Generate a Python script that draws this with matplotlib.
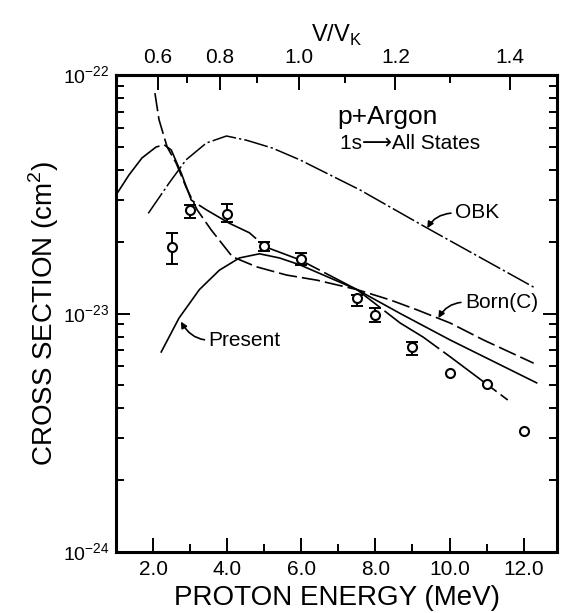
import numpy as np
import matplotlib
matplotlib.use('Agg')
import matplotlib.pyplot as plt
from matplotlib.ticker import LogLocator, NullFormatter

plt.rcParams['font.family'] = ['Liberation Sans', 'DejaVu Sans']
plt.rcParams['mathtext.fontset'] = 'custom'
plt.rcParams['mathtext.rm'] = 'Liberation Sans'

# measured cross sections, units of 1e-23 cm^2
exp_E = [2.5, 3.0, 4.0, 5.0, 6.0, 7.5, 8.0, 9.0, 10.0, 11.0, 12.0]
exp_sig = [1.90, 2.72, 2.62, 1.91, 1.69, 1.16, 0.986, 0.726, 0.565, 0.506, 0.323]
# error bar ends for the first 8 points
err_lo = [1.62, 2.52, 2.43, 1.83, 1.59, 1.08, 0.92, 0.668]
err_hi = [2.17, 2.85, 2.88, 1.99, 1.80, 1.20, 1.054, 0.762]

# Born(C) - dashed
born_E = [2.05, 2.16, 2.38, 2.62, 2.89, 3.19, 3.57, 4.14, 4.79, 5.60, 6.42, 7.50,
          8.40, 9.13, 10.02, 10.92, 12.27]
born_sig = [8.4, 6.5, 4.99, 4.28, 3.39, 2.72, 2.24, 1.73, 1.57, 1.45, 1.38, 1.26,
            1.14, 1.035, 0.912, 0.774, 0.619]

# OBK - dash-dot
obk_E = [1.87, 2.43, 2.89, 3.44, 3.98, 4.52, 5.22, 5.96, 7.58, 9.4, 12.27]
obk_sig = [2.63, 3.52, 4.41, 5.19, 5.55, 5.33, 4.94, 4.41, 3.3, 2.28, 1.29]

# long-dash curve
ld_E = [1.0, 1.35, 1.70, 2.08, 2.30, 2.49, 2.76, 3.03, 3.44, 4.06, 4.6, 5.04, 5.96,
        7.5, 8.67, 9.29, 10.02, 11.0, 11.57]
ld_sig = [3.14, 3.81, 4.49, 4.99, 5.1, 4.85, 3.88, 2.99, 2.72, 2.39, 2.18, 1.9, 1.68,
          1.26, 0.912, 0.796, 0.658, 0.506, 0.434]

# Present - solid
pr_E = [2.22, 2.7, 3.25, 3.79, 4.33, 4.87, 5.41, 5.96, 6.42, 7.5, 8.67, 10.02, 12.35]
pr_sig = [0.69, 0.957, 1.26, 1.52, 1.71, 1.78, 1.71, 1.60, 1.49, 1.26, 1.0, 0.774, 0.512]

x_ticks = [2, 4, 6, 8, 10, 12]
x_labels = ['2.0', '4.0', '6.0', '8.0', '10.0', '12.0']
x_minor = [3, 5, 7, 9, 11]
y_ticks = [1e-24, 1e-23, 1e-22]
y_labels = [r'$10^{-24}$', r'$10^{-23}$', r'$10^{-22}$']
v_ticks = [0.6, 0.8, 1.0, 1.2, 1.4]
v_labels = ['0.6', '0.8', '1.0', '1.2', '1.4']
v_minor = [0.7, 0.9, 1.1, 1.3]
EK = 5.93  # proton energy (MeV) where V = V_K

U = 1e-23

fig = plt.figure(figsize=(5.61, 6.13), dpi=100)
ax = fig.add_axes([0.2068, 0.0995, 0.7861, 0.7781])
ax.set_yscale('log')
ax.set_xlim(1.0, 12.9)
ax.set_ylim(1e-24, 1e-22)

ax.plot(born_E, np.array(born_sig) * U, color='k', lw=1.2, dashes=(11, 3))
ax.plot(obk_E, np.array(obk_sig) * U, color='k', lw=1.1, dashes=(16, 2, 1.5, 2))
ax.plot(ld_E, np.array(ld_sig) * U, color='k', lw=1.2, dashes=(40, 3))
ax.plot(pr_E, np.array(pr_sig) * U, color='k', lw=1.2)

n = len(err_lo)
sig_e = np.array(exp_sig[:n])
yerr = [sig_e - np.array(err_lo), np.array(err_hi) - sig_e]
ax.errorbar(exp_E[:n], sig_e * U, yerr=np.array(yerr) * U, fmt='none', ecolor='k',
            elinewidth=1.4, capsize=4, capthick=1.4, zorder=4)
ax.plot(exp_E, np.array(exp_sig) * U, 'o', mfc='white', mec='k', ms=6.5, mew=1.5, zorder=5)

# ticks and frame
ax.set_xticks(x_ticks, labels=x_labels)
ax.set_xticks(x_minor, minor=True)
ax.set_yticks(y_ticks, labels=y_labels)
ax.yaxis.set_minor_locator(LogLocator(base=10, subs=range(2, 10)))
ax.yaxis.set_minor_formatter(NullFormatter())
ax.tick_params(which='both', direction='in', top=False, right=True, width=1.4)
ax.tick_params(which='major', length=10)
ax.tick_params(which='minor', length=6)
ax.tick_params(axis='x', labelsize=15, pad=6)
ax.tick_params(axis='y', labelsize=14, pad=5)
for s in ax.spines.values():
    s.set_linewidth(2.2)

ax.set_xlabel('PROTON ENERGY (MeV)', fontsize=20, labelpad=4)
ax.set_ylabel(r'CROSS SECTION (cm$^2$)', fontsize=20, labelpad=1)

# top axis: V/V_K
sec = ax.secondary_xaxis('top', functions=(lambda e: np.sqrt(np.clip(e, 1e-9, None) / EK),
                                           lambda v: EK * np.asarray(v) ** 2))
sec.set_xticks(v_ticks, labels=v_labels)
sec.set_xticks(v_minor, minor=True)
sec.tick_params(which='both', direction='in', width=1.4, labelsize=15, pad=6)
sec.tick_params(which='major', length=11)
sec.tick_params(which='minor', length=6)
sec.spines['top'].set_linewidth(2.2)
sec.set_xlabel(r'V/V$_{\mathregular{K}}$', fontsize=17, labelpad=4)

# labels
ax.text(0.501, 0.912, 'p+Argon', transform=ax.transAxes, fontsize=19, ha='left', va='center')
ax.text(0.508, 0.857, '1s\u27f6All States', transform=ax.transAxes, fontsize=15,
        ha='left', va='center')

arrow = dict(arrowstyle='-|>', color='k', lw=1.2, relpos=(0, 0.5), shrinkA=1, shrinkB=0,
             mutation_scale=9)
ax.annotate('OBK', xy=(9.40, 2.28e-23), xytext=(10.15, 2.64e-23), fontsize=15,
            ha='left', va='center',
            arrowprops=dict(arrow, connectionstyle='angle3,angleA=0,angleB=60'))
ax.annotate('Born(C)', xy=(9.70, 9.57e-24), xytext=(10.42, 1.116e-23), fontsize=15,
            ha='left', va='center',
            arrowprops=dict(arrow, connectionstyle='angle3,angleA=0,angleB=60'))
ax.annotate('Present', xy=(2.75, 9.25e-24), xytext=(3.5, 7.74e-24), fontsize=15,
            ha='left', va='center',
            arrowprops=dict(arrow, connectionstyle='angle3,angleA=0,angleB=-60'))

fig.savefig('out.png', dpi=100)
